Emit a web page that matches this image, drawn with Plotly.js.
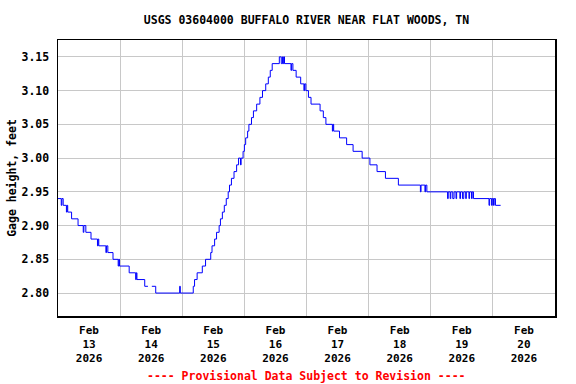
<!DOCTYPE html>
<html>
<head>
<meta charset="utf-8">
<script src="https://cdn.plot.ly/plotly-3.0.1.min.js"></script>
<style>
  html, body { margin: 0; padding: 0; background: #ffffff; }
  #chart { width: 576px; height: 384px; }
</style>
</head>
<body>
<div id="chart"></div>
<script>
// Gage height observations (change points, stepped line)
const times = [
  '2026-02-13 00:00','2026-02-13 01:15','2026-02-13 01:30','2026-02-13 02:00','2026-02-13 03:15','2026-02-13 03:30','2026-02-13 03:45',
  '2026-02-13 05:15','2026-02-13 07:45','2026-02-13 09:45','2026-02-13 10:00','2026-02-13 10:45',
  '2026-02-13 12:45','2026-02-13 15:15','2026-02-13 15:30','2026-02-13 15:45','2026-02-13 18:30','2026-02-13 18:45','2026-02-13 19:15',
  '2026-02-13 21:15','2026-02-13 23:15','2026-02-13 23:30','2026-02-13 23:45',
  '2026-02-14 03:30','2026-02-14 06:00','2026-02-14 06:15','2026-02-14 06:30','2026-02-14 09:30','2026-02-14 10:45','2026-02-14 11:00',
  '2026-02-14 12:15','2026-02-14 13:45','2026-02-14 23:00','2026-02-14 23:15',
  '2026-02-15 04:15','2026-02-15 04:45','2026-02-15 05:45','2026-02-15 07:45','2026-02-15 09:00','2026-02-15 11:00','2026-02-15 11:30',
  '2026-02-15 12:30','2026-02-15 13:15','2026-02-15 14:15','2026-02-15 14:45','2026-02-15 15:30','2026-02-15 16:15','2026-02-15 17:00',
  '2026-02-15 17:45','2026-02-15 18:15','2026-02-15 19:00','2026-02-15 20:00','2026-02-15 21:00','2026-02-15 21:45','2026-02-15 22:30',
  '2026-02-15 22:45','2026-02-15 23:30',
  '2026-02-16 00:00','2026-02-16 00:30','2026-02-16 01:15','2026-02-16 01:45','2026-02-16 02:45','2026-02-16 03:30','2026-02-16 04:45',
  '2026-02-16 06:00','2026-02-16 07:00','2026-02-16 08:15','2026-02-16 09:15','2026-02-16 10:00','2026-02-16 10:45','2026-02-16 13:30',
  '2026-02-16 14:15','2026-02-16 14:45','2026-02-16 15:00','2026-02-16 15:15','2026-02-16 15:30','2026-02-16 18:00','2026-02-16 18:15',
  '2026-02-16 18:45','2026-02-16 20:00','2026-02-16 21:45','2026-02-16 23:00','2026-02-16 23:15','2026-02-16 23:45',
  '2026-02-17 00:45','2026-02-17 01:45','2026-02-17 05:15','2026-02-17 06:30','2026-02-17 07:30','2026-02-17 10:00','2026-02-17 10:15',
  '2026-02-17 10:30','2026-02-17 12:45','2026-02-17 15:30','2026-02-17 18:00','2026-02-17 21:30',
  '2026-02-18 00:30','2026-02-18 03:15','2026-02-18 06:30','2026-02-18 11:30','2026-02-18 20:00','2026-02-18 20:15','2026-02-18 21:45',
  '2026-02-18 22:00','2026-02-18 22:30',
  '2026-02-19 06:30','2026-02-19 06:45','2026-02-19 07:30','2026-02-19 07:45','2026-02-19 08:30','2026-02-19 09:00','2026-02-19 09:45',
  '2026-02-19 10:00','2026-02-19 11:15','2026-02-19 11:30','2026-02-19 12:15','2026-02-19 12:45','2026-02-19 13:30','2026-02-19 13:45',
  '2026-02-19 14:45','2026-02-19 15:00','2026-02-19 15:45','2026-02-19 16:00','2026-02-19 16:30',
  '2026-02-19 22:30','2026-02-19 22:45','2026-02-19 23:30','2026-02-19 23:45',
  '2026-02-20 00:15','2026-02-20 00:30','2026-02-20 01:00','2026-02-20 03:00'
];
const gageHeight = [
  2.94,2.93,2.94,2.93,2.92,2.93,2.92,
  2.91,2.90,2.89,2.90,2.89,
  2.88,2.87,2.88,2.87,2.86,2.87,2.86,
  2.85,2.84,2.85,2.84,
  2.83,2.82,2.83,2.82,2.81,2.81,null,
  2.81,2.80,2.81,2.80,
  2.81,2.82,2.83,2.84,2.85,2.86,2.87,
  2.88,2.89,2.90,2.91,2.92,2.93,2.94,
  2.95,2.96,2.97,2.98,2.99,3.00,2.99,
  3.00,3.01,
  3.02,3.03,3.04,3.05,3.06,3.07,3.08,
  3.09,3.10,3.11,3.12,3.13,3.14,3.15,
  3.14,3.15,3.14,3.15,3.14,3.13,3.14,
  3.13,3.12,3.11,3.10,3.11,3.10,
  3.09,3.08,3.07,3.06,3.05,3.04,3.05,
  3.04,3.03,3.02,3.01,3.00,
  2.99,2.98,2.97,2.96,2.95,2.96,2.95,
  2.96,2.95,
  2.94,2.95,2.94,2.95,2.94,2.95,2.94,
  2.95,2.94,2.95,2.94,2.95,2.94,2.95,
  2.94,2.95,2.94,2.95,2.94,
  2.93,2.94,2.93,2.94,
  2.93,2.94,2.93,2.93
];

// Axis ticks
const dayTickVals = ['2026-02-13 12:00','2026-02-14 12:00','2026-02-15 12:00','2026-02-16 12:00',
                     '2026-02-17 12:00','2026-02-18 12:00','2026-02-19 12:00','2026-02-20 12:00'];
const dayTickText = ['Feb<br>13<br>2026','Feb<br>14<br>2026','Feb<br>15<br>2026','Feb<br>16<br>2026',
                     'Feb<br>17<br>2026','Feb<br>18<br>2026','Feb<br>19<br>2026','Feb<br>20<br>2026'];
const xRange = ['2026-02-13 00:00','2026-02-21 00:00'];
const yRange = [2.766, 3.175];

const chartTitle = 'USGS 03604000 BUFFALO RIVER NEAR FLAT WOODS, TN';
const yTitle = 'Gage height, feet';
const footnote = '---- Provisional Data Subject to Revision ----';

const monoFamily = '"DejaVu Sans Mono", "Liberation Mono", monospace';
const mono = {family: monoFamily, size: 11.5, color: '#000000', weight: 'bold'};

const trace = {
  x: times, y: gageHeight, type: 'scatter', mode: 'lines',
  line: {color: '#0000ff', width: 1, shape: 'hv'},
  connectgaps: false, hoverinfo: 'skip'
};

const layout = {
  width: 576, height: 384,
  margin: {l: 58, r: 21, t: 40, b: 68, pad: 0},
  paper_bgcolor: '#ffffff', plot_bgcolor: '#ffffff',
  showlegend: false,
  font: mono,
  title: {text: chartTitle, font: mono, x: 0.5, xref: 'paper', xanchor: 'center',
          y: 1 - 19.5/384, yref: 'container', yanchor: 'middle'},
  xaxis: {
    type: 'date', range: xRange, fixedrange: true,
    tickmode: 'array', tickvals: dayTickVals, ticktext: dayTickText,
    ticks: '', showgrid: false, zeroline: false,
    tickfont: {family: monoFamily, size: 11, color: '#000000', weight: 'bold'}, ticklabelstandoff: 3,
    showline: true, linecolor: '#000000', linewidth: 1.5, mirror: true,
    minor: {tick0: '2026-02-13 00:00', dtick: 86400000, showgrid: true, gridcolor: '#c8c8c8', gridwidth: 1, ticks: ''}
  },
  yaxis: {
    range: yRange, fixedrange: true,
    tickmode: 'linear', tick0: 2.80, dtick: 0.05, tickformat: '.2f',
    ticks: '', showgrid: true, gridcolor: '#c8c8c8', gridwidth: 1, zeroline: false,
    tickfont: mono, ticklabelstandoff: 5,
    showline: true, linecolor: '#000000', linewidth: 1.5, mirror: true,
    title: {text: yTitle, font: mono, standoff: 2}
  },
  annotations: [{
    text: footnote, xref: 'paper', yref: 'paper', x: 0.5, y: (316 - 375.5) / 276,
    xanchor: 'center', yanchor: 'middle', showarrow: false,
    font: {family: monoFamily, size: 11.5, color: '#ff0000', weight: 'bold'}
  }]
};

Plotly.newPlot('chart', [trace], layout, {staticPlot: true, displayModeBar: false});
</script>
</body>
</html>
